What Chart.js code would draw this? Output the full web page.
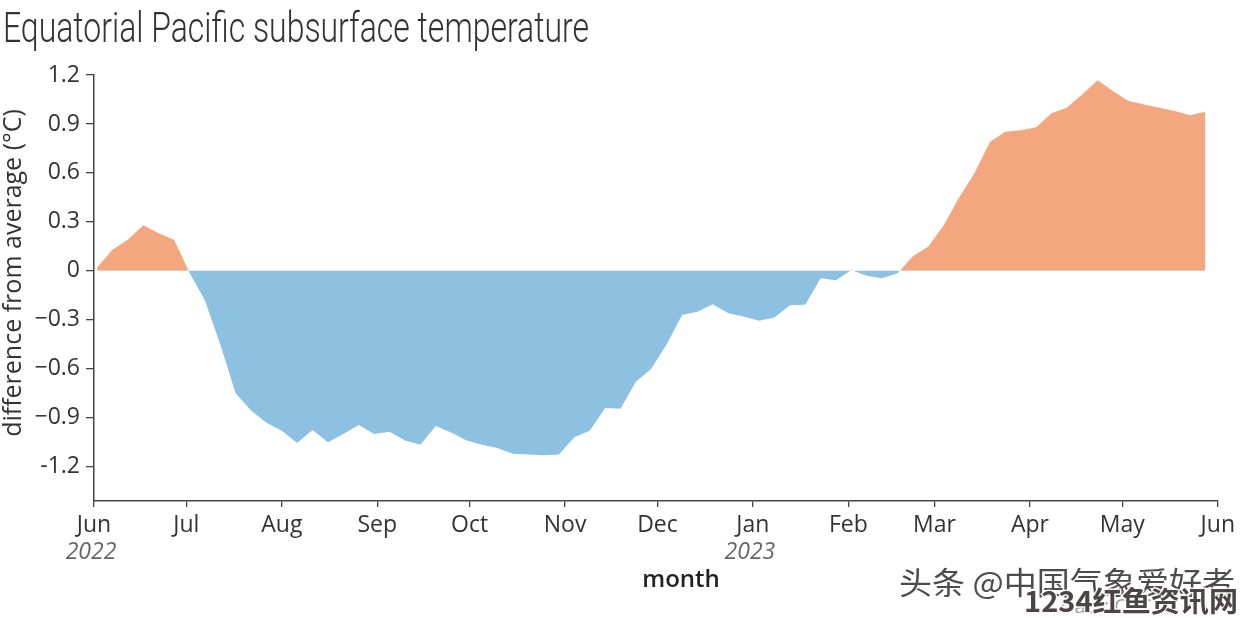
<!DOCTYPE html>
<html>
<head>
<meta charset="utf-8">
<script src="https://cdn.jsdelivr.net/npm/chart.js@4.4.1/dist/chart.umd.min.js"></script>
<style>
  html, body { margin: 0; padding: 0; background: #ffffff; }
  #wrap { width: 1240px; height: 620px; position: relative; }
</style>
</head>
<body>
<div id="wrap"><canvas id="c" width="1240" height="620"></canvas></div>
<script>
// ---- DATA ----
// days since 1 Jun 2022 (pentad centres)
const pentadDays = [1,6,11,16,21,26,31,36,41,46,51,56,61,66,71,76,81,86,91,96,
  101,106,111,116,121,126,131,136,141,146,151,156,161,166,171,176,181,186,191,196,
  201,206,211,216,221,226,231,236,241,246,251,256,261,266,271,276,281,286,291,296,
  301,306,311,316,321,326,331,336,341,346,351,356,361];
// subsurface temperature anomaly (°C)
const anomaly = [0.02,0.13,0.19,0.28,0.23,0.19,-0.01,-0.18,-0.45,-0.75,
  -0.855,-0.93,-0.98,-1.055,-0.975,-1.05,-1.0,-0.945,-1.0,-0.985,
  -1.04,-1.065,-0.95,-0.99,-1.04,-1.065,-1.085,-1.12,-1.125,-1.13,
  -1.125,-1.02,-0.98,-0.84,-0.845,-0.68,-0.60,-0.45,-0.27,-0.25,
  -0.205,-0.26,-0.28,-0.305,-0.285,-0.21,-0.208,-0.045,-0.057,0.005,
  -0.03,-0.045,-0.015,0.09,0.15,0.28,0.45,0.60,0.79,0.853,
  0.861,0.88,0.965,1.0,1.082,1.168,1.10,1.04,1.02,1.0,
  0.98,0.953,0.975];
const monthDays = [0,30,61,92,122,153,183,214,245,273,304,334,365];
const monthLabels = ["Jun","Jul","Aug","Sep","Oct","Nov","Dec","Jan","Feb","Mar","Apr","May","Jun"];
const yearLabels = [{day:0, text:"2022"},{day:214, text:"2023"}];
const yTicks = [1.2,0.9,0.6,0.3,0,-0.3,-0.6,-0.9,-1.2];
const yTickLabels = ["1.2","0.9","0.6","0.3","0","\u22120.3","\u22120.6","\u22120.9","-1.2"];
const titleText = "Equatorial Pacific subsurface temperature";
const yTitle = "difference from average (\u00B0C)";
const xTitle = "month";
const sourceText = "Data: CPC";
const watermark1 = "\u5934\u6761 @\u4E2D\u56FD\u6C14\u8C61\u7231\u597D\u8005";
const watermark2 = "1234\u7EA2\u9C7C\u8D44\u8BAF\u7F51";

const FONT = "'Open Sans', 'DejaVu Sans', sans-serif";
const TXT = '#333333';

const points = pentadDays.map((d, i) => ({x: d, y: anomaly[i]}));

const extras = {
  id: 'extras',
  afterDraw(chart) {
    const ctx = chart.ctx;
    const xs = chart.scales.x;
    ctx.save();
    // title (condensed look)
    ctx.font = "300 43px Roboto, 'Open Sans', sans-serif";
    ctx.fillStyle = '#333333';
    ctx.textBaseline = 'alphabetic';
    ctx.textAlign = 'left';
    const w = ctx.measureText(titleText).width;
    ctx.save();
    ctx.translate(3, 41.5);
    ctx.scale(586 / w, 1);
    ctx.fillText(titleText, 0, 0);
    ctx.restore();
    // y axis title
    ctx.save();
    ctx.font = "25px " + FONT;
    ctx.fillStyle = TXT;
    ctx.textAlign = 'center';
    ctx.textBaseline = 'middle';
    ctx.translate(14, 273);
    ctx.rotate(-Math.PI / 2);
    ctx.fillText(yTitle, 0, 0);
    ctx.restore();
    // year labels
    ctx.font = "italic 23px " + FONT;
    ctx.fillStyle = '#666666';
    ctx.textAlign = 'center';
    ctx.textBaseline = 'middle';
    yearLabels.forEach(y => ctx.fillText(y.text, xs.getPixelForValue(y.day) - 3, 552));
    // x title
    ctx.font = "600 24px " + FONT;
    ctx.fillStyle = '#222222';
    ctx.fillText(xTitle, 681, 580);
    // source
    ctx.font = "20px " + FONT;
    ctx.fillStyle = '#9a9a9a';
    ctx.textAlign = 'left';
    ctx.fillText(sourceText, 1060, 607);
    // watermarks
    ctx.font = "31px 'Noto Sans CJK SC', sans-serif";
    ctx.fillStyle = 'rgba(45,45,45,0.85)';
    ctx.textAlign = 'left';
    const w1 = ctx.measureText(watermark1).width;
    ctx.save();
    ctx.translate(899, 582);
    ctx.scale(336 / w1, 1);
    ctx.lineWidth = 2;
    ctx.strokeStyle = 'rgba(255,255,255,0.9)';
    ctx.strokeText(watermark1, 0, 0);
    ctx.fillText(watermark1, 0, 0);
    ctx.restore();
    ctx.font = "bold 28px 'Noto Sans CJK SC', sans-serif";
    const w2 = ctx.measureText(watermark2).width;
    ctx.save();
    ctx.translate(1024, 601);
    ctx.scale(214 / w2, 1);
    ctx.lineWidth = 3;
    ctx.strokeStyle = 'rgba(255,255,255,0.9)';
    ctx.strokeText(watermark2, 0, 0);
    ctx.fillStyle = '#4d4545';
    ctx.fillText(watermark2, 0, 0);
    ctx.restore();
    ctx.restore();
  }
};

new Chart(document.getElementById('c'), {
  type: 'line',
  data: {
    datasets: [{
      data: points,
      borderWidth: 0,
      borderColor: 'rgba(0,0,0,0)',
      pointRadius: 0,
      tension: 0,
      fill: { target: 'origin', above: '#f4a67e', below: '#8cc1e1' }
    }]
  },
  plugins: [extras],
  options: {
    responsive: false,
    animation: false,
    events: [],
    layout: { padding: { left: 0, top: 75, right: 21, bottom: 0 } },
    plugins: { legend: { display: false }, tooltip: { enabled: false }, title: { display: false } },
    scales: {
      x: {
        type: 'linear',
        min: 0,
        max: 365,
        afterBuildTicks(s) { s.ticks = monthDays.map(v => ({value: v})); },
        afterFit(s) { s.height = 119; },
        ticks: {
          autoSkip: false,
          maxRotation: 0,
          padding: 5,
          color: TXT,
          font: { family: FONT, size: 23 },
          callback(v, i) { return monthLabels[i]; }
        },
        grid: { display: true, drawOnChartArea: false, tickLength: 6, color: '#444444', lineWidth: 1.3 },
        border: { display: true, color: '#444444', width: 1.5 }
      },
      y: {
        min: -1.41,
        max: 1.2,
        afterBuildTicks(s) { s.ticks = yTicks.map(v => ({value: v})); },
        afterFit(s) { s.width = 94; },
        ticks: {
          autoSkip: false,
          padding: 6,
          color: TXT,
          font: { family: FONT, size: 23 },
          callback(v, i) { return yTickLabels[i]; }
        },
        grid: { display: true, drawOnChartArea: false, tickLength: 8, color: '#444444', lineWidth: 1.3 },
        border: { display: true, color: '#444444', width: 1.5 },
        title: { display: false }
      }
    }
  }
});
</script>
</body>
</html>
